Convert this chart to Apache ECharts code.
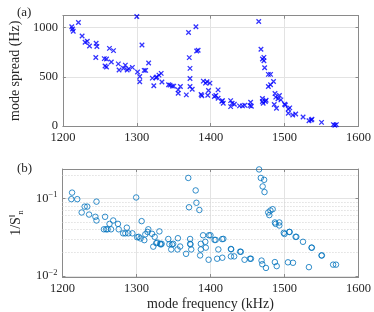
<!DOCTYPE html>
<html><head><meta charset="utf-8">
<script src="https://cdn.jsdelivr.net/npm/echarts@6/dist/echarts.min.js"></script>
<style>html,body{margin:0;padding:0;background:#fff}#c{width:374px;height:312px}</style>
</head><body><div id="c"></div>
<script>
// Panel (a): mode spread vs mode frequency
const spreadFreq = [1212,1213,1214,1221,1226,1230,1233,1236,1245,1246,1244.5,1256,1259,1257,1259,1263,1268.5,1265.5,1275,1276,1282,1284.5,1287,1289,1294,1300,1301,1304,1304,1307,1310,1312,1316,1321,1323,1326,1327,1330,1333,1334,1343,1345,1348,1350,1356,1356,1359,1367,1370,1371,1372,1372,1372,1375,1380,1381,1383,1387,1388,1390,1393,1395,1399,1397,1396,1405,1407,1410,1410,1415,1417,1416,1427,1429,1427,1432,1439,1443,1446,1453,1454,1455,1465,1468,1470,1472,1472,1473,1470,1470,1471,1475,1474,1478,1481,1481,1478,1485,1487,1488,1486,1489,1491,1493,1495,1500,1501,1505,1507,1505,1511,1515,1525,1533,1536,1537,1550,1566,1568,1570];
const spreadHz = [1007,985,962,1051,914,850,860,812,840,808,695,684,680,609,599,788,765,650,631,569,586,618,568,580,595,1112,548,503,449,823,565,565,639,486,408,490,497,517,534,446,418,415,405,405,367,333,401,316,949,694,585,483,401,374,1007,762,769,320,308,456,435,449,435,360,313,299,310,367,282,252,231,258,258,231,197,221,204,204,211,207,241,200,1061,779,680,697,663,592,279,248,231,262,248,524,524,418,401,452,330,293,218,180,276,310,265,221,214,173,184,129,112,122,92,54,61,68,37,14,7,14];

// Panel (b): 1/S_n vs mode frequency
const invFreq = [1213,1212,1220,1226,1230,1233.5,1236,1246,1244.5,1246,1257.6,1256,1259,1261,1263.6,1268.6,1265.7,1275,1276,1282,1285,1289,1294.5,1287,1299.6,1301,1303,1305.5,1307,1310.6,1312,1315,1316,1321,1322.7,1324.6,1326.7,1328,1331,1332,1333,1334,1343,1344.5,1348,1349.6,1347,1355.5,1356,1359,1367,1370,1371,1372.5,1372.5,1373,1374,1380,1381,1385,1387,1387,1386,1390,1393,1393.7,1398,1400,1397.5,1405.5,1407,1409,1410.6,1415.7,1417.4,1416,1427.6,1428,1427.6,1432,1440,1441,1446,1453.4,1454.7,1465.7,1468,1472.5,1470.5,1473,1469,1470,1475,1478,1479.5,1481,1484,1487,1488,1493,1493,1487,1489.5,1499,1500,1506.4,1507,1504.7,1511.5,1515,1516,1525,1533,1536.5,1537,1550,1550.5,1565.7,1569.6];
const invVal = [0.119,0.098,0.098,0.066,0.0785,0.0785,0.062,0.091,0.058,0.052,0.058,0.040,0.040,0.040,0.047,0.052,0.040,0.047,0.040,0.0355,0.0355,0.0355,0.0355,0.042,0.103,0.0316,0.032,0.0305,0.051,0.029,0.0345,0.037,0.040,0.035,0.0239,0.032,0.0265,0.027,0.0376,0.026,0.0255,0.026,0.030,0.0257,0.0255,0.026,0.022,0.022,0.0307,0.024,0.0193,0.184,0.077,0.030,0.026,0.0255,0.022,0.127,0.088,0.071,0.026,0.022,0.0184,0.0335,0.0276,0.0232,0.0335,0.0335,0.0162,0.0292,0.0292,0.0167,0.022,0.0299,0.0301,0.0172,0.0223,0.0221,0.0179,0.0179,0.0206,0.0205,0.0162,0.0167,0.0167,0.237,0.184,0.174,0.143,0.121,0.0158,0.0142,0.0127,0.066,0.061,0.070,0.0727,0.049,0.047,0.049,0.0448,0.0151,0.0134,0.036,0.0348,0.037,0.037,0.015,0.0148,0.032,0.032,0.0276,0.013,0.0232,0.0232,0.0184,0.0184,0.014,0.014];

const xTicks = [1200, 1300, 1400, 1500, 1600];
const spreadTicks = [0, 500, 1000];
const minorLogLines = [0.02,0.03,0.04,0.05,0.06,0.07,0.08,0.09,0.2];

const serif = '"Liberation Serif", "DejaVu Serif", serif';
const txt = '#262626';
const frame = '#8a8a8a';
const gridC = '#e3e3e3';

function xAxisMain(gi, showName) {
  return {
    type: 'value', gridIndex: gi, min: xTicks[0], max: xTicks[xTicks.length-1], interval: 100,
    name: showName ? 'mode frequency (kHz)' : '', nameLocation: 'middle', nameGap: 20,
    nameTextStyle: {fontFamily: serif, fontSize: 14, color: txt},
    axisLine: {show: true, onZero: false, lineStyle: {color: frame}},
    axisTick: {show: true, inside: true, length: 3, lineStyle: {color: frame}},
    axisLabel: {fontFamily: serif, fontSize: 12.5, color: txt, margin: 5,
      formatter: v => xTicks.indexOf(v) >= 0 ? String(v) : ''},
    splitLine: {show: true, lineStyle: {color: gridC}}
  };
}
function xAxisTop(gi) {
  return {
    type: 'value', gridIndex: gi, position: 'top', min: xTicks[0], max: xTicks[xTicks.length-1], interval: 100,
    axisLine: {show: true, onZero: false, lineStyle: {color: frame}},
    axisTick: {show: true, inside: true, length: 3, lineStyle: {color: frame}},
    axisLabel: {show: false}, splitLine: {show: false}
  };
}

const option = {
  animation: false,
  backgroundColor: '#fff',
  grid: [
    {left: 47.7, right: 11.7, top: 15.7, height: 110.3},
    {left: 47.7, right: 11.7, top: 169, height: 109.7}
  ],
  title: [
    {text: '(a)', left: 12, top: 1, textStyle: {fontFamily: serif, fontSize: 13, fontWeight: 'normal', color: txt}},
    {text: '(b)', left: 12, top: 157, textStyle: {fontFamily: serif, fontSize: 13, fontWeight: 'normal', color: txt}}
  ],
  xAxis: [xAxisMain(0, false), xAxisTop(0), xAxisMain(1, true), xAxisTop(1)],
  yAxis: [
    {
      type: 'value', gridIndex: 0, min: 0, max: 1120, interval: 500,
      name: 'mode spread (Hz)', nameLocation: 'middle', nameGap: 36, nameRotate: 90,
      nameTextStyle: {fontFamily: serif, fontSize: 14, color: txt},
      axisLine: {show: true, lineStyle: {color: frame}},
      axisTick: {show: true, inside: true, length: 3, lineStyle: {color: frame}},
      axisLabel: {fontFamily: serif, fontSize: 12.5, color: txt, margin: 5, showMaxLabel: false,
        formatter: v => spreadTicks.indexOf(v) >= 0 ? String(v) : ''},
      splitLine: {show: true, lineStyle: {color: gridC}}
    },
    {
      type: 'value', gridIndex: 0, position: 'right', min: 0, max: 1120, interval: 500,
      axisLine: {show: true, lineStyle: {color: frame}},
      axisTick: {show: true, inside: true, length: 3, lineStyle: {color: frame}},
      axisLabel: {show: false}, splitLine: {show: false}
    },
    {
      type: 'log', logBase: 10, gridIndex: 1, min: 0.0097, max: 0.24,
      name: '{m|1/S}{sup|‖}{sub|n}', nameLocation: 'middle', nameGap: 35, nameRotate: 90,
      nameTextStyle: {fontFamily: serif, fontSize: 14, color: txt,
        rich: {
          m: {fontFamily: serif, fontSize: 14, color: txt, lineHeight: 18, verticalAlign: 'middle'},
          sub: {fontFamily: serif, fontSize: 9, color: txt, lineHeight: 18, padding: [8, 0, 0, 0]},
          sup: {fontFamily: serif, fontSize: 9, color: txt, lineHeight: 18, padding: [0, 0, 8, 0]}
        }},
      axisLine: {show: true, lineStyle: {color: frame}},
      axisTick: {show: true, inside: true, length: 3, lineStyle: {color: frame}},
      axisLabel: {fontFamily: serif, fontSize: 12.5, color: txt, margin: 5, showMinLabel: false, showMaxLabel: false,
        formatter: v => {
          const e = Math.round(Math.log10(v));
          if (Math.abs(Math.log10(v) - e) > 1e-6) return '';
          return '10{s|−' + Math.abs(e) + '}';
        },
        rich: {s: {fontFamily: serif, fontSize: 8.5, color: txt, padding: [0, 0, 7, 0]}}
      },
      splitLine: {show: true, lineStyle: {color: gridC}}
    },
    {
      type: 'log', logBase: 10, gridIndex: 1, position: 'right', min: 0.0097, max: 0.24,
      axisLine: {show: true, lineStyle: {color: frame}},
      axisTick: {show: true, inside: true, length: 3, lineStyle: {color: frame}},
      axisLabel: {show: false}, splitLine: {show: false}
    }
  ],
  series: [
    {
      type: 'scatter', xAxisIndex: 0, yAxisIndex: 0,
      symbol: 'path://M0,0L10,10M10,0L0,10', symbolSize: 4.5,
      itemStyle: {color: 'rgba(0,0,0,0)', borderColor: '#0000ff', borderWidth: 1.3},
      data: spreadFreq.map((f, i) => [f, spreadHz[i]]),
      z: 5
    },
    {
      type: 'scatter', xAxisIndex: 2, yAxisIndex: 2,
      symbol: 'circle', symbolSize: 5.5,
      itemStyle: {color: 'rgba(0,0,0,0)', borderColor: '#0072bd', borderWidth: 1},
      data: invFreq.map((f, i) => [f, invVal[i]]),
      markLine: {
        silent: true, symbol: ['none', 'none'], label: {show: false},
        lineStyle: {color: '#d0d0d0', type: [1, 2], width: 1},
        data: minorLogLines.map(v => ({yAxis: v}))
      },
      z: 5
    }
  ]
};
echarts.init(document.getElementById('c'), null, {renderer: 'canvas'}).setOption(option);
</script></body></html>
